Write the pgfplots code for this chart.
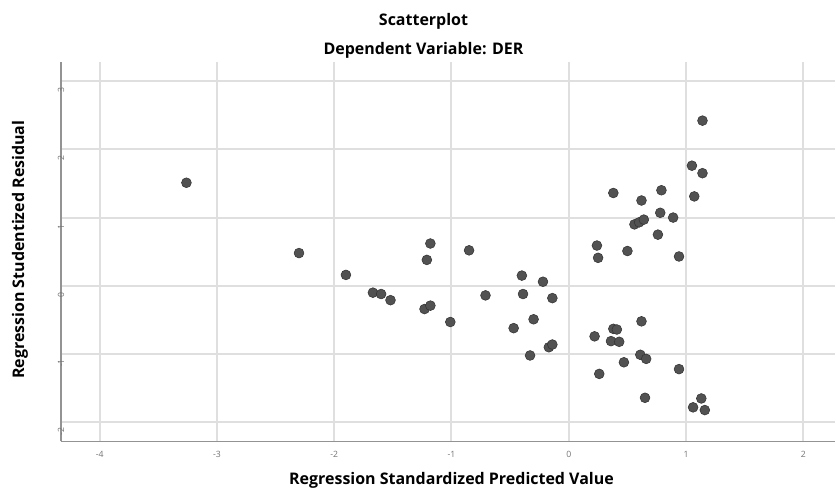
\documentclass[border=0pt]{standalone}
\usepackage{pgfplots}
\pgfplotsset{compat=1.18}
\usepackage{fontspec}
\setmainfont{Open Sans}

% residuals vs predicted
\begin{document}
\begin{tikzpicture}
\begin{axis}[
  at={(0pt,0pt)}, anchor=south west,
  scale only axis,
  width=581.25pt, height=285pt,
  xmin=-4.33, xmax=2.27,
  ymin=-2.28, ymax=3.28,
  xtick={-4,-3,-2,-1,0,1,2},
  ytick={-2,-1,0,1,2,3},
  axis x line*=bottom,
  axis y line*=left,
  axis line style={gray!85, line width=0.9pt, -},
  major tick length=0pt,
  grid=major,
  major grid style={gray!25, line width=1.5pt},
  /pgf/number format/assume math mode=true,
  xticklabel style={font=\fontsize{6.5}{7}\selectfont, text=black!55, anchor=center, yshift=-9.75pt},
  yticklabel style={font=\fontsize{6.5}{7}\selectfont, text=black!55, rotate=90, anchor=center, xshift=-6.75pt},
  clip=false,
]
\addplot[only marks, mark=*, mark size=3.7pt,
  mark options={fill=black!68, draw=black!80, line width=0.4pt}]
  coordinates {
  (-3.26,1.51) (-2.30,0.48) (-1.90,0.16) (-1.67,-0.10) (-1.60,-0.12)
  (-1.52,-0.21) (-1.18,0.62) (-1.21,0.38) (-0.85,0.52) (-1.23,-0.34)
  (-1.18,-0.29) (-1.01,-0.53) (-0.71,-0.14) (-0.40,0.15) (-0.22,0.06)
  (-0.39,-0.12) (-0.14,-0.18) (-0.30,-0.49) (-0.47,-0.62) (-0.17,-0.90)
  (-0.14,-0.86) (-0.33,-1.02) (1.14,2.42) (1.05,1.76) (1.14,1.65)
  (1.07,1.31) (0.38,1.36) (0.79,1.40) (0.62,1.25) (0.78,1.07)
  (0.89,1.00) (0.56,0.90) (0.60,0.93) (0.64,0.97) (0.76,0.75)
  (0.24,0.59) (0.25,0.41) (0.50,0.51) (0.94,0.43) (0.62,-0.52)
  (0.38,-0.63) (0.41,-0.64) (0.22,-0.74) (0.36,-0.81) (0.43,-0.82)
  (0.61,-1.01) (0.66,-1.07) (0.47,-1.12) (0.26,-1.29) (0.94,-1.22)
  (0.65,-1.64) (1.13,-1.65) (1.06,-1.78) (1.16,-1.82)
  };
\end{axis}
\path[use as bounding box] (-45.75pt,-37.5pt) rectangle (581.25pt,331.5pt);
\node[font=\bfseries\fontsize{12}{14}\selectfont] at (272.25pt,315.5pt) {Scatterplot};
\node[font=\bfseries\fontsize{12}{14}\selectfont] at (272.25pt,293.5pt) {Dependent Variable: DER};
\node[font=\bfseries\fontsize{12}{14}\selectfont] at (293.25pt,-29.5pt) {Regression Standardized Predicted Value};
\node[font=\bfseries\fontsize{12}{14}\selectfont, rotate=90] at (-30.75pt,144pt) {Regression Studentized Residual};
\end{tikzpicture}
\end{document}
